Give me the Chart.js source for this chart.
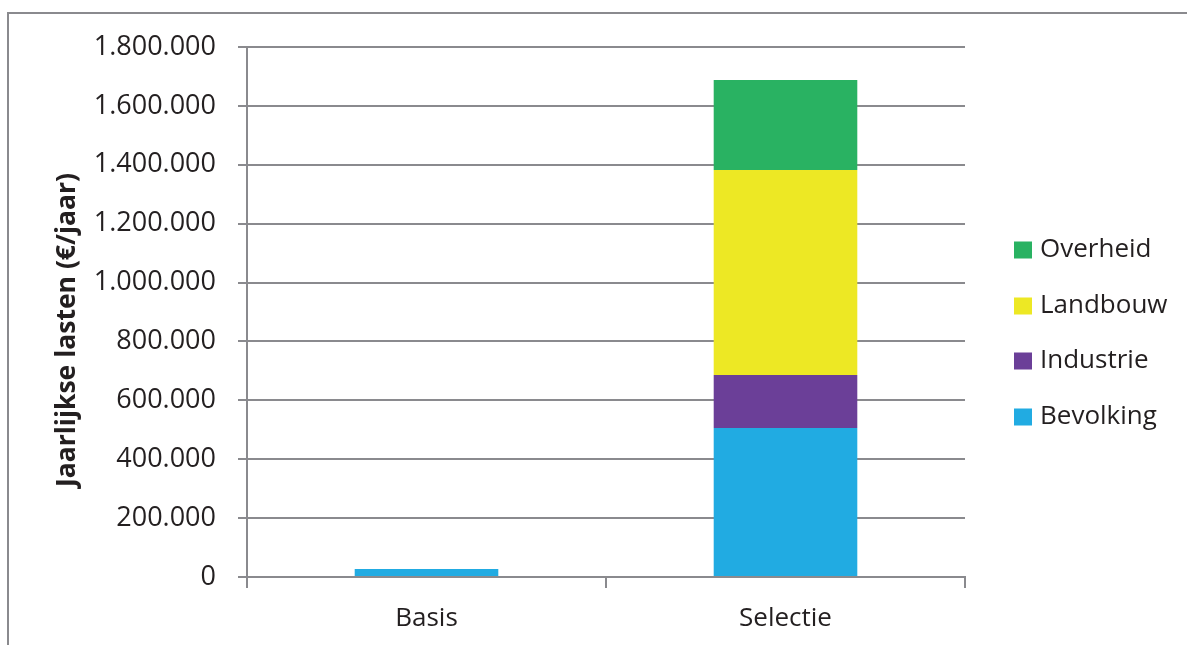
<!DOCTYPE html>
<html><head><meta charset="utf-8">
<script src="https://cdn.jsdelivr.net/npm/chart.js@4/dist/chart.umd.min.js"></script>
<style>html,body{margin:0;padding:0;background:#fff;}#wrap{width:1187px;height:645px;}</style>
</head><body><div id="wrap"><canvas id="c" width="1187" height="645"></canvas></div>
<script>
const categories = ['Basis', 'Selectie'];
const bevolking = [27000, 506000];
const industrie = [0, 180000];
const landbouw = [0, 696000];
const overheid = [0, 306000];
const yTicks = [0, 200000, 400000, 600000, 800000, 1000000, 1200000, 1400000, 1600000, 1800000];
const seriesNames = ['Bevolking', 'Industrie', 'Landbouw', 'Overheid'];
const seriesColors = ['#21ABE2', '#6B3F98', '#EDE824', '#29B262'];
const yTitle = 'Jaarlijkse lasten (€/jaar)';

const FONT = "'Open Sans', sans-serif";
const GRID = '#8A8A8E';
const TXT = '#231F20';

function fmt(v){ return String(v).replace(/\B(?=(\d{3})+(?!\d))/g, '.'); }

const extras = {
  id: 'extras',
  afterDraw(chart){
    const ctx = chart.ctx;
    ctx.save();
    // frame
    ctx.strokeStyle = GRID; ctx.lineWidth = 2;
    ctx.beginPath(); ctx.moveTo(8, 650); ctx.lineTo(8, 13); ctx.lineTo(1195, 13); ctx.stroke();
    // y title
    ctx.fillStyle = TXT;
    ctx.font = "bold 26.5px " + FONT;
    ctx.translate(67, 330); ctx.rotate(-Math.PI/2);
    ctx.textAlign = 'center'; ctx.textBaseline = 'middle';
    ctx.fillText(yTitle, 0, 0);
    ctx.setTransform(1,0,0,1,0,0);
    // legend (reversed order)
    const ds = chart.data.datasets;
    ctx.font = "26px " + FONT;
    ctx.textAlign = 'left'; ctx.textBaseline = 'middle';
    const ys = [250, 306, 361, 417];
    for (let i = 0; i < ds.length; i++) {
      const d = ds[ds.length - 1 - i];
      const y = ys[i];
      ctx.fillStyle = d.backgroundColor;
      ctx.fillRect(1014, y - 8.5, 18, 17);
      ctx.fillStyle = TXT;
      ctx.fillText(d.label, 1040, y);
    }
    ctx.restore();
  }
};

new Chart(document.getElementById('c'), {
  type: 'bar',
  data: {
    labels: categories,
    datasets: [bevolking, industrie, landbouw, overheid].map((arr, i) => ({
      label: seriesNames[i], data: arr, backgroundColor: seriesColors[i],
      borderWidth: 0, barPercentage: 1, categoryPercentage: 0.4
    }))
  },
  options: {
    responsive: false, animation: false,
    layout: { padding: { top: 47, right: 222, left: 0, bottom: 0 } },
    plugins: { legend: { display: false }, tooltip: { enabled: false } },
    scales: {
      x: {
        stacked: true,
        afterFit(s){ s.height = 68; },
        grid: { display: true, drawOnChartArea: false, drawTicks: true, tickLength: 11, color: GRID, lineWidth: 2, offset: true },
        border: { display: true, color: GRID, width: 2 },
        ticks: { color: TXT, font: { family: FONT, size: 26 }, padding: 15 }
      },
      y: {
        stacked: true, min: 0, max: 1800000,
        afterFit(s){ s.width = 247; },
        afterBuildTicks(s){ s.ticks = yTicks.map(v => ({ value: v })); },
        grid: { color: GRID, lineWidth: 2, tickLength: 9, drawTicks: true },
        border: { display: true, color: GRID, width: 2 },
        ticks: { color: TXT, font: { family: FONT, size: 27 }, padding: 22, callback: v => fmt(v) }
      }
    }
  },
  plugins: [extras]
});
</script></body></html>
